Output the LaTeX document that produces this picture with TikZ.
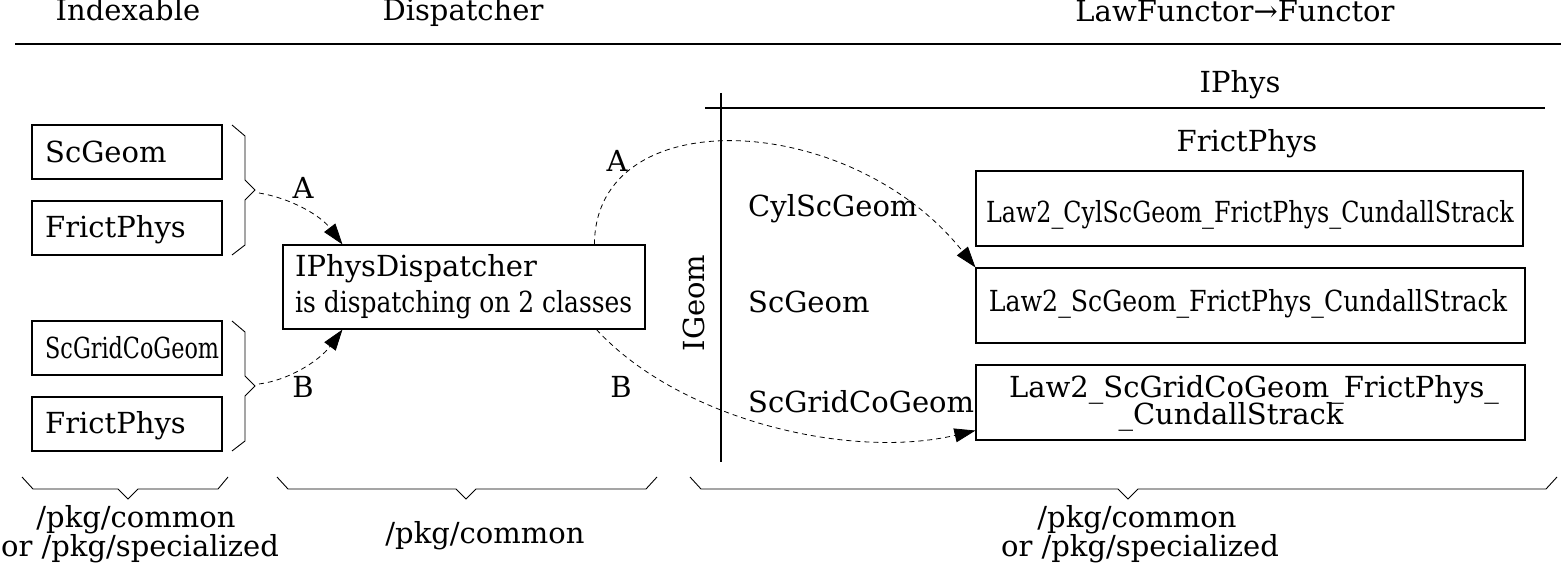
\documentclass[tikz,border=0pt]{standalone}
\usepackage{fontspec}
\setmainfont{DejaVu Serif}
\newfontfamily\cndA[FakeStretch=0.77]{DejaVu Serif}
\newfontfamily\cndB[FakeStretch=0.82]{DejaVu Serif}
\newfontfamily\cndD[FakeStretch=0.87]{DejaVu Serif}
\newfontfamily\cndC[FakeStretch=0.86]{DejaVu Serif}
\usetikzlibrary{arrows.meta}
\begin{document}
\begin{tikzpicture}[x=1pt,y=-1pt,
  font=\fontsize{29}{35}\selectfont,
  boxn/.style={draw, line width=1.1pt, inner sep=0pt},
  txt/.style={inner sep=0pt, anchor=base},
  txtw/.style={inner sep=0pt, anchor=base west},
  rule/.style={line width=1.1pt},
  bracel/.style={line width=0.9pt},
  conn/.style={line width=0.8pt, dash pattern=on 5pt off 4pt, -{Triangle[length=21pt,width=14pt]}}]
\useasboundingbox (0,0) rectangle (1561,577);

% headers
\node[txt] (hIdx) at (128,21) {Indexable};
\node[txt] (hDsp) at (463,21) {Dispatcher};
\node[txt] (hLaw) at (1235,22) {LawFunctor→Functor};
\draw[rule] (15,44) -- (1561,44);

% left boxes
\node[boxn, minimum width=190pt, minimum height=54pt] (b1) at (127,152) {};
\node[boxn, minimum width=190pt, minimum height=54pt] (b2) at (127,228) {};
\node[boxn, minimum width=190pt, minimum height=54pt] (b3) at (127,348) {};
\node[boxn, minimum width=190pt, minimum height=54pt] (b4) at (127,424) {};
\node[txtw] (t1) at (45,163) {ScGeom};
\node[txtw] (t2) at (45,238) {FrictPhys};
\node[txtw] (t3) at (45,358) {\cndA ScGridCoGeom};
\node[txtw] (t4) at (45,433) {FrictPhys};

% braces right of left boxes
\draw[bracel] (232,125) -- (245,136) -- (245,180) -- (255,190) -- (245,200) -- (245,245) -- (232,255);
\draw[bracel] (232,321) -- (245,332) -- (245,376) -- (255,386) -- (245,396) -- (245,441) -- (232,451);
\coordinate (tipA) at (259,193);
\coordinate (tipB) at (259,384);

% dispatcher
\node[boxn, minimum width=362pt, minimum height=84pt] (disp) at (464,287) {};
\node[txtw] (d1) at (295,277) {IPhysDispatcher};
\node[txtw] (d2) at (295,313) {\cndC is dispatching on 2 classes};

\draw[conn] (tipA) .. controls (290,198) and (320,215) .. ([xshift=60pt]disp.north west);
\draw[conn] (tipB) .. controls (290,380) and (320,360) .. ([xshift=60pt]disp.south west);
\node[txt] (lA1) at (303,199) {A};
\node[txt] (lB1) at (303,397) {B};

% right grid
\draw[rule] (721,93) -- (721,462);
\draw[rule] (705,108) -- (1545,108);
\node[txt] (iphys) at (1240,93) {IPhys};
\node[txt] (fphys) at (1247,152) {FrictPhys};
\node[txt, rotate=90] (igeom) at (704,303) {IGeom};
\node[txtw] (r1) at (748,217) {CylScGeom};
\node[txtw] (r2) at (748,313) {ScGeom};
\node[txtw] (r3) at (748,412) {ScGridCoGeom};

\node[boxn, minimum width=547pt, minimum height=75pt] (law1) at (1249.5,208.5) {};
\node[boxn, minimum width=549pt, minimum height=75pt] (law2) at (1250.5,305.5) {};
\node[boxn, minimum width=549pt, minimum height=75pt] (law3) at (1250.5,402.5) {};
\node[txt] (lt1) at (1250,223) {\cndB Law2\_CylScGeom\_FrictPhys\_CundallStrack};
\node[txt] (lt2) at (1248,312) {\cndD Law2\_ScGeom\_FrictPhys\_CundallStrack};
\node[txt] (lt3a) at (1254,397) {Law2\_ScGridCoGeom\_FrictPhys\_};
\node[txt] (lt3b) at (1231,424) {\_CundallStrack};

\draw[conn] ([xshift=312pt]disp.north west) .. controls (595,100) and (850,110) .. (law2.north west);
\draw[conn] ([xshift=314pt]disp.south west) .. controls (680,420) and (850,460) .. ([yshift=10pt]law3.south west);
\node[txt] (lA2) at (617,172) {A};
\node[txt] (lB2) at (621,397) {B};

% bottom braces
\draw[bracel] (22,477) -- (33,489) -- (118,489) -- (128,499) -- (138,489) -- (218,489) -- (228,477);
\draw[bracel] (277,477) -- (288,489) -- (456,489) -- (466,499) -- (476,489) -- (646,489) -- (657,477);
\draw[bracel] (690,477) -- (701,489) -- (1118,489) -- (1128,499) -- (1138,489) -- (1546,489) -- (1557,477);

\node[txt] (p1) at (136,527) {/pkg/common};
\node[txt] (p2) at (140,556) {or /pkg/specialized};
\node[txt] (p3) at (485,543) {/pkg/common};
\node[txt] (p4) at (1137,527) {/pkg/common};
\node[txt] (p5) at (1140,556) {or /pkg/specialized};
\end{tikzpicture}
\end{document}
